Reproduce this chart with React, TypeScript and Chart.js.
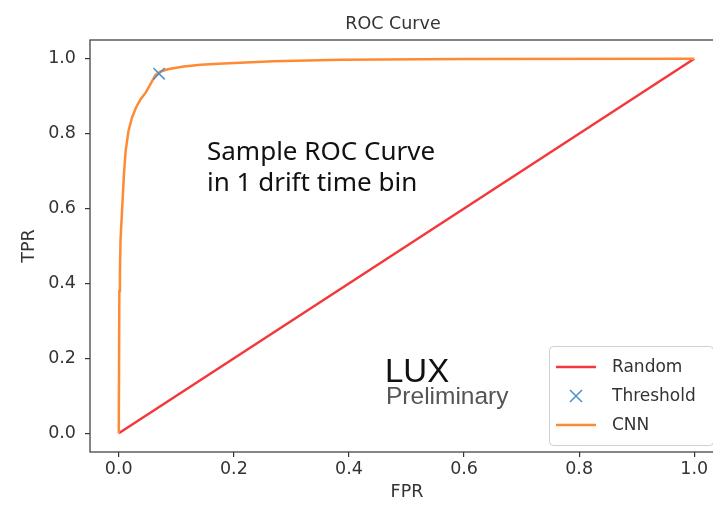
import React, { useEffect, useRef } from "react";
import { Chart, registerables } from "chart.js";

Chart.register(...registerables);

const chartTitle = "ROC Curve";
const xAxisLabel = "FPR";
const yAxisLabel = "TPR";
const tickValues = [0, 0.2, 0.4, 0.6, 0.8, 1.0];

const randomFpr = [0, 1];
const randomTpr = [0, 1];

const thresholdFpr = [0.07];
const thresholdTpr = [0.96];

const cnnFpr = [0, 0.001, 0.002, 0.003, 0.006, 0.009, 0.012, 0.017, 0.023, 0.03, 0.038, 0.047, 0.056, 0.064, 0.073, 0.085, 0.113, 0.142, 0.182, 0.269, 0.385, 0.6, 1.0];
const cnnTpr = [0, 0.38, 0.427, 0.515, 0.603, 0.692, 0.755, 0.808, 0.843, 0.87, 0.892, 0.91, 0.935, 0.957, 0.966, 0.972, 0.979, 0.984, 0.987, 0.993, 0.997, 0.999, 1.0];

const legendLabels = ["Random", "Threshold", "CNN"];
const noteLines = ["Sample ROC Curve", "in 1 drift time bin"];
const luxMain = "LUX";
const luxSub = "Preliminary";

const RED = "#f2383c";
const BLUE = "#4f8fc8";
const ORANGE = "#ff8a35";
const INK = "#333333";

const toPts = (xs: number[], ys: number[]) => xs.map((x, i) => ({ x, y: ys[i] }));

const decorPlugin = {
  id: "decor",
  afterDraw(chart: any) {
    const { ctx, chartArea } = chart;
    const { left, top, right, bottom } = chartArea;
    ctx.save();
    // frame
    ctx.strokeStyle = "#444";
    ctx.lineWidth = 1.3;
    ctx.strokeRect(left, top, right - left, bottom - top);

    // title
    ctx.fillStyle = INK;
    ctx.font = "17.5px 'DejaVu Sans'";
    ctx.textAlign = "center";
    ctx.textBaseline = "alphabetic";
    ctx.fillText(chartTitle, 393, 29);

    // axis labels
    ctx.fillText(xAxisLabel, 407, 497);
    ctx.save();
    ctx.translate(34, 246);
    ctx.rotate(-Math.PI / 2);
    ctx.fillText(yAxisLabel, 0, 0);
    ctx.restore();

    // annotation
    ctx.textAlign = "left";
    ctx.fillStyle = "#111";
    ctx.font = "26px 'Noto Sans'";
    ctx.fillText(noteLines[0], 207, 160);
    ctx.fillText(noteLines[1], 207, 191);

    ctx.font = "33px 'Liberation Sans'";
    ctx.fillStyle = "#111";
    ctx.fillText(luxMain, 385, 382);
    ctx.font = "24.5px 'Liberation Sans'";
    ctx.fillStyle = "#555";
    ctx.fillText(luxSub, 386, 404);

    // legend
    const bx = 549, by = 346, bw = 164, bh = 99;
    ctx.fillStyle = "rgba(255,255,255,0.85)";
    ctx.strokeStyle = "#d0d0d0";
    ctx.lineWidth = 1;
    ctx.beginPath();
    (ctx as any).roundRect(bx + 0.5, by + 0.5, bw, bh, 4);
    ctx.fill();
    ctx.stroke();

    const rows = [367, 396, 425];
    ctx.font = "17px 'DejaVu Sans'";
    ctx.fillStyle = INK;
    ctx.textBaseline = "middle";
    legendLabels.forEach((lab, i) => {
      ctx.fillText(lab, 612, rows[i] + 1);
    });
    ctx.lineWidth = 2.5;
    ctx.strokeStyle = RED;
    ctx.beginPath();
    ctx.moveTo(556, rows[0]);
    ctx.lineTo(596, rows[0]);
    ctx.stroke();
    ctx.strokeStyle = ORANGE;
    ctx.beginPath();
    ctx.moveTo(556, rows[2]);
    ctx.lineTo(596, rows[2]);
    ctx.stroke();
    ctx.strokeStyle = BLUE;
    ctx.lineWidth = 1.5;
    const cx = 576, cy = rows[1], r = 6;
    ctx.beginPath();
    ctx.moveTo(cx - r, cy - r);
    ctx.lineTo(cx + r, cy + r);
    ctx.moveTo(cx - r, cy + r);
    ctx.lineTo(cx + r, cy - r);
    ctx.stroke();
    ctx.restore();
  },
};

export default function App() {
  const ref = useRef<HTMLCanvasElement>(null);
  useEffect(() => {
    if (!ref.current) return;
    const chart = new Chart(ref.current, {
      type: "scatter",
      data: {
        datasets: [
          {
            label: legendLabels[1],
            data: toPts(thresholdFpr, thresholdTpr),
            showLine: false,
            pointStyle: "crossRot",
            pointRadius: 8,
            borderColor: BLUE,
            backgroundColor: BLUE,
            borderWidth: 1.5,
            order: 0,
          },
          {
            label: legendLabels[2],
            data: toPts(cnnFpr, cnnTpr),
            showLine: true,
            borderColor: ORANGE,
            borderWidth: 2.5,
            pointRadius: 0,
            tension: 0,
            order: 1,
          },
          {
            label: legendLabels[0],
            data: toPts(randomFpr, randomTpr),
            showLine: true,
            borderColor: RED,
            borderWidth: 2.5,
            pointRadius: 0,
            order: 2,
          },
        ],
      },
      options: {
        animation: false,
        responsive: false,
        devicePixelRatio: 1,
        layout: { padding: { top: 40, right: 17, left: 0, bottom: 0 } },
        plugins: { legend: { display: false }, tooltip: { enabled: false }, title: { display: false } },
        scales: {
          x: {
            type: "linear",
            min: -0.05,
            max: 1.05,
            afterBuildTicks: (s: any) => {
              s.ticks = tickValues.map((v) => ({ value: v }));
            },
            afterFit: (s: any) => {
              s.height = 57;
            },
            grid: { drawOnChartArea: false, drawTicks: true, tickLength: 5, color: INK, lineWidth: 1.2 },
            border: { display: false },
            ticks: {
              color: INK,
              font: { size: 17.5, family: "'DejaVu Sans'" },
              padding: 2,
              maxRotation: 0,
              autoSkip: false,
              callback: (v: any) => Number(v).toFixed(1),
            },
          },
          y: {
            type: "linear",
            min: -0.05,
            max: 1.05,
            afterBuildTicks: (s: any) => {
              s.ticks = tickValues.map((v) => ({ value: v }));
            },
            afterFit: (s: any) => {
              s.width = 90;
            },
            grid: { drawOnChartArea: false, drawTicks: true, tickLength: 5, color: INK, lineWidth: 1.2 },
            border: { display: false },
            ticks: {
              color: INK,
              font: { size: 17.5, family: "'DejaVu Sans'" },
              padding: 9,
              autoSkip: false,
              callback: (v: any) => Number(v).toFixed(1),
            },
          },
        },
      },
      plugins: [decorPlugin],
    });
    return () => chart.destroy();
  }, []);
  return (
    <div style={{ position: "fixed", left: 0, top: 0, width: 713, height: 509, overflow: "hidden", background: "#fff" }}>
      <canvas ref={ref} width={740} height={509} style={{ display: "block" }} />
    </div>
  );
}
